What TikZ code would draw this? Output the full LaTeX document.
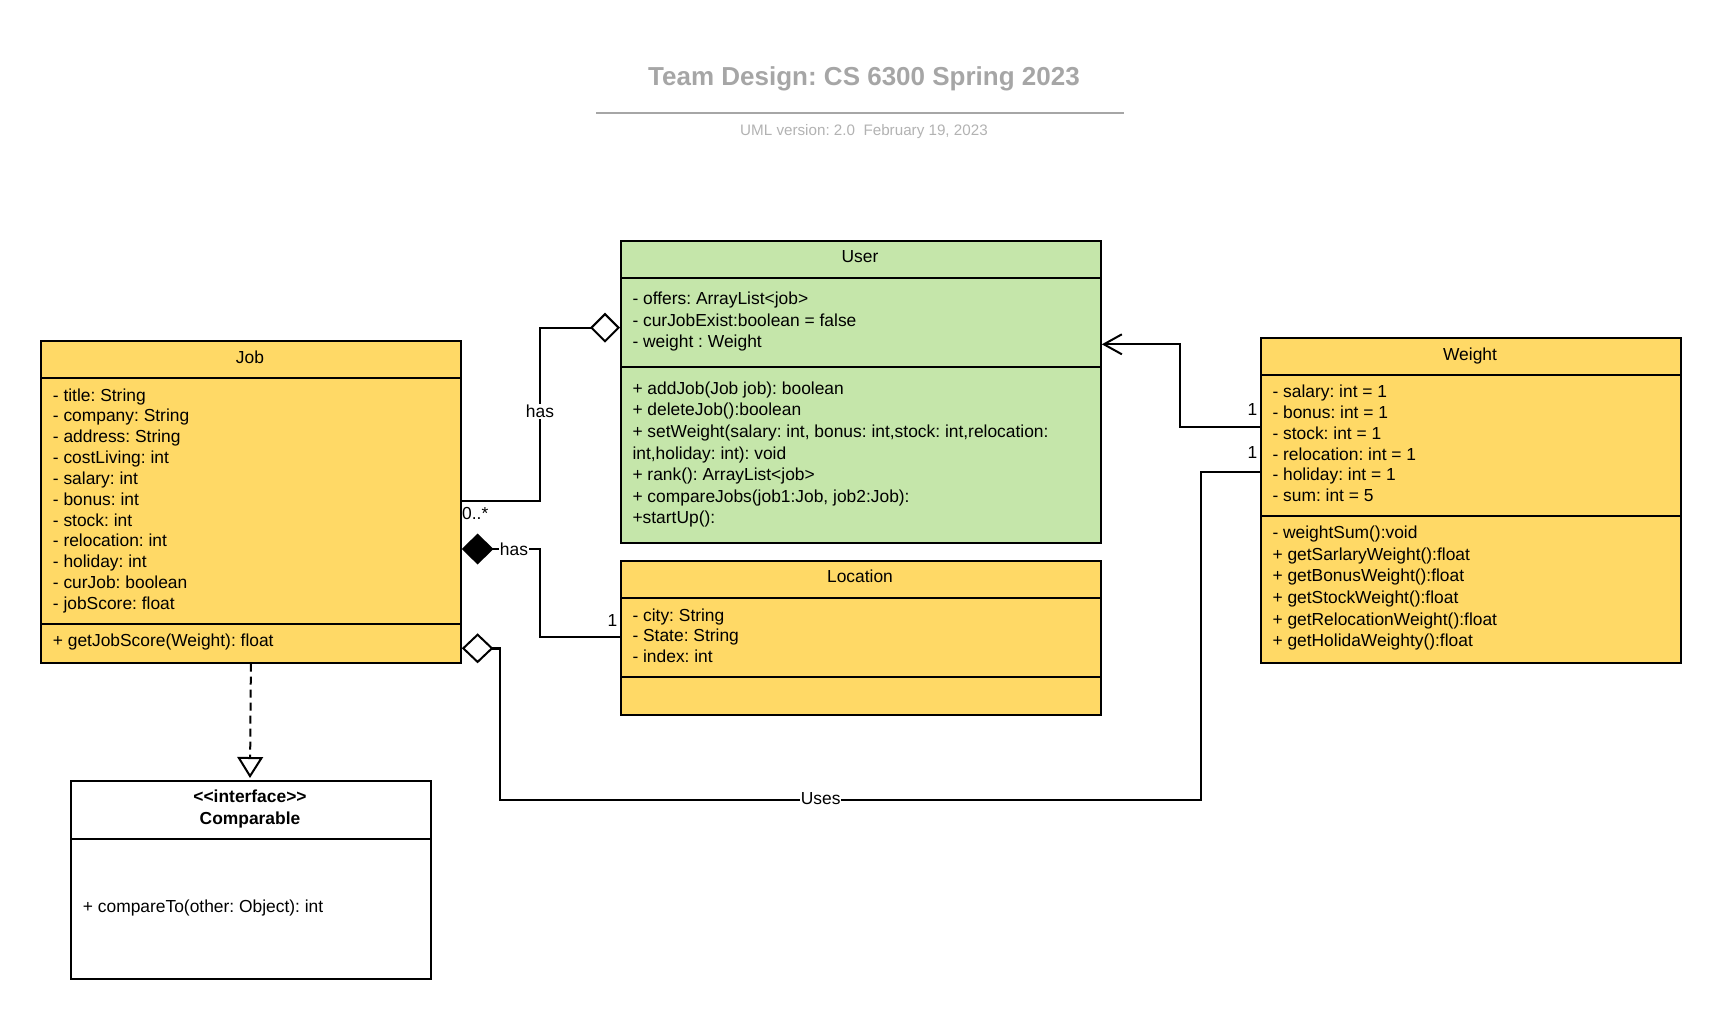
\documentclass[tikz,border=0pt]{standalone}
\usepackage{fontspec}
\setmainfont{Liberation Sans}
\usetikzlibrary{arrows.meta}
\definecolor{jobyellow}{RGB}{255,217,102}
\definecolor{usergreen}{RGB}{197,230,170}
\definecolor{titlegray}{RGB}{166,166,166}
\definecolor{subgray}{RGB}{178,178,178}
\frenchspacing
\begin{document}
\begin{tikzpicture}[x=1pt,y=-1pt,
  classbox/.style={draw=black, line width=1.8pt, rectangle, inner sep=0pt, anchor=north west},
  sepline/.style={line width=1.8pt},
  txt/.style={anchor=base west, inner sep=0pt, font=\fontsize{17.4}{21}\selectfont},
  head/.style={anchor=base, inner sep=0pt, font=\fontsize{17.4}{21}\selectfont},
  conn/.style={line width=2.4pt, line join=miter},
  thinconn/.style={line width=2pt},
  lbl/.style={inner sep=1pt, fill=white, font=\fontsize{17.4}{21}\selectfont},
  mult/.style={inner sep=0pt, font=\fontsize{17.4}{21}\selectfont},
]
\useasboundingbox (0,0) rectangle (1720,1018);

% title
\node[anchor=base, inner sep=0pt, text=titlegray, font=\fontsize{26}{30}\selectfont\bfseries] (title) at (864,85) {Team Design: CS 6300 Spring 2023};
\coordinate (rl) at (596,113.3);
\coordinate (rr) at (1124,113.3);
\draw[titlegray, line width=2pt] (rl) -- (rr);
\node[anchor=base, inner sep=0pt, text=subgray, font=\fontsize{15.2}{18}\selectfont] (subtitle) at (864,135) {UML version: 2.0\ \ February 19, 2023};

% Job
\node[classbox, fill=jobyellow, minimum width=420pt, minimum height=321.7pt] (job) at (40,340) {};
\draw[sepline] (job.west |- 0,377.7) -- (job.east |- 0,377.7);
\draw[sepline] (job.west |- 0,624.3) -- (job.east |- 0,624.3);
\node[head] (jobh) at (250,363) {Job};
\foreach \t [count=\i] in {- title: String, - company: String, - address: String, - costLiving: int, - salary: int, - bonus: int, - stock: int, - relocation: int, - holiday: int, - curJob: boolean, - jobScore: float}
  \node[txt] (joba\i) at (52.7,{401+(\i-1)*20.85}) {\t};
\node[txt] (jobm1) at (52.7,646.5) {+ getJobScore(Weight): float};

% User
\node[classbox, fill=usergreen, minimum width=480pt, minimum height=301.7pt] (user) at (620,240) {};
\draw[sepline] (user.west |- 0,277.7) -- (user.east |- 0,277.7);
\draw[sepline] (user.west |- 0,366.7) -- (user.east |- 0,366.7);
\node[head] (userh) at (860,262.5) {User};
\foreach \t [count=\i] in {- offers: ArrayList<job>, - curJobExist:boolean = false, - weight : Weight}
  \node[txt] (usera\i) at (632.3,{304.3+(\i-1)*21.7}) {\t};
\foreach \t [count=\i] in {+ addJob(Job job): boolean, + deleteJob():boolean, {+ setWeight(salary: int, bonus: int,stock: int,relocation:}, {int,holiday: int): void}, + rank(): ArrayList<job>, {+ compareJobs(job1:Job, job2:Job):}, +startUp():}
  \node[txt] (userm\i) at (632.3,{394.3+(\i-1)*21.57}) {\t};

% Location
\node[classbox, fill=jobyellow, minimum width=480pt, minimum height=154.3pt] (loc) at (620,560) {};
\draw[sepline] (loc.west |- 0,598.3) -- (loc.east |- 0,598.3);
\draw[sepline] (loc.west |- 0,676.7) -- (loc.east |- 0,676.7);
\node[head] (loch) at (860,582.5) {Location};
\foreach \t [count=\i] in {- city: String, - State: String, - index: int}
  \node[txt] (loca\i) at (632.3,{621+(\i-1)*20.85}) {\t};

% Weight
\node[classbox, fill=jobyellow, minimum width=420pt, minimum height=325pt] (weight) at (1260,336.7) {};
\draw[sepline] (weight.west |- 0,375) -- (weight.east |- 0,375);
\draw[sepline] (weight.west |- 0,515.7) -- (weight.east |- 0,515.7);
\node[head] (weighth) at (1470,360) {Weight};
\foreach \t [count=\i] in {- salary: int = 1, - bonus: int = 1, - stock: int = 1, - relocation: int = 1, - holiday: int = 1, - sum: int = 5}
  \node[txt] (weighta\i) at (1272.3,{397.3+(\i-1)*20.9}) {\t};
\foreach \t [count=\i] in {- weightSum():void, + getSarlaryWeight():float, + getBonusWeight():float, + getStockWeight():float, + getRelocationWeight():float, + getHolidaWeighty():float}
  \node[txt] (weightm\i) at (1272.3,{538.7+(\i-1)*21.6}) {\t};

% Comparable
\node[classbox, fill=white, minimum width=360pt, minimum height=197.7pt] (comp) at (70,780) {};
\draw[sepline] (comp.west |- 0,839) -- (comp.east |- 0,839);
\node[head, font=\fontsize{17.4}{21}\selectfont\bfseries] (comph1) at (250,802.5) {<{}<interface>{}>};
\node[head, font=\fontsize{17.4}{21}\selectfont\bfseries] (comph2) at (250,824) {Comparable};
\node[txt] (compm1) at (82.7,912.5) {+ compareTo(other: Object): int};

% connector coordinates
\coordinate (uA) at (user.west |- 0,327.7);
\coordinate (jA) at (job.east |- 0,501);
\coordinate (jL) at (job.east |- 0,549);
\coordinate (lJ) at (loc.west |- 0,636.7);
\coordinate (jU) at (job.east |- 0,648.3);
\coordinate (wU) at (weight.west |- 0,471.7);
\coordinate (wA) at (weight.west |- 0,426.7);
\coordinate (uW) at (user.east |- 0,344.3);
\coordinate (jB) at (job.south);
\coordinate (cT) at (250,778);

% User <>-- Job (has)
\draw[conn, {Diamond[open, fill=white, length=30pt, width=30pt, line width=2pt]}-] (uA) -| (540,501) -- (jA);
\node[lbl] (has1) at (540,411.7) {has};
\node[mult, anchor=base west] (m0) at (462,519) {0..*};

% Job <*>-- Location (has)
\draw[conn, {Diamond[fill=black, length=31.6pt, width=31pt]}-] (jL) -- (540,549) |- (lJ);
\node[lbl, inner sep=0.5pt] (has2) at (514,549) {has};
\node[mult, anchor=east] (m1) at (617.5,620.7) {1};

% Job <>-- Weight (Uses)
\draw[conn, {Diamond[open, fill=white, length=31.6pt, width=30pt, line width=2pt]}-] (jU) -| (500,800) -| (1201,471.7) -- (wU);
\node[lbl, inner sep=0.5pt] (uses) at (820.7,798.3) {Uses};
\node[mult, anchor=east] (m2) at (1257.5,453) {1};

% Weight --> User
\draw[thinconn, -{Straight Barb[length=18pt, width=20pt, line width=2pt]}] (wA) -| (1180,344.3) -- (uW);
\node[mult, anchor=east] (m3) at (1257.5,410) {1};

% Job ..|> Comparable
\draw[thinconn, dash pattern=on 8pt off 5pt, -{Triangle[open, fill=white, length=21pt, width=25.7pt, line width=2pt]}] (jB) -- (cT);
\end{tikzpicture}
\end{document}
